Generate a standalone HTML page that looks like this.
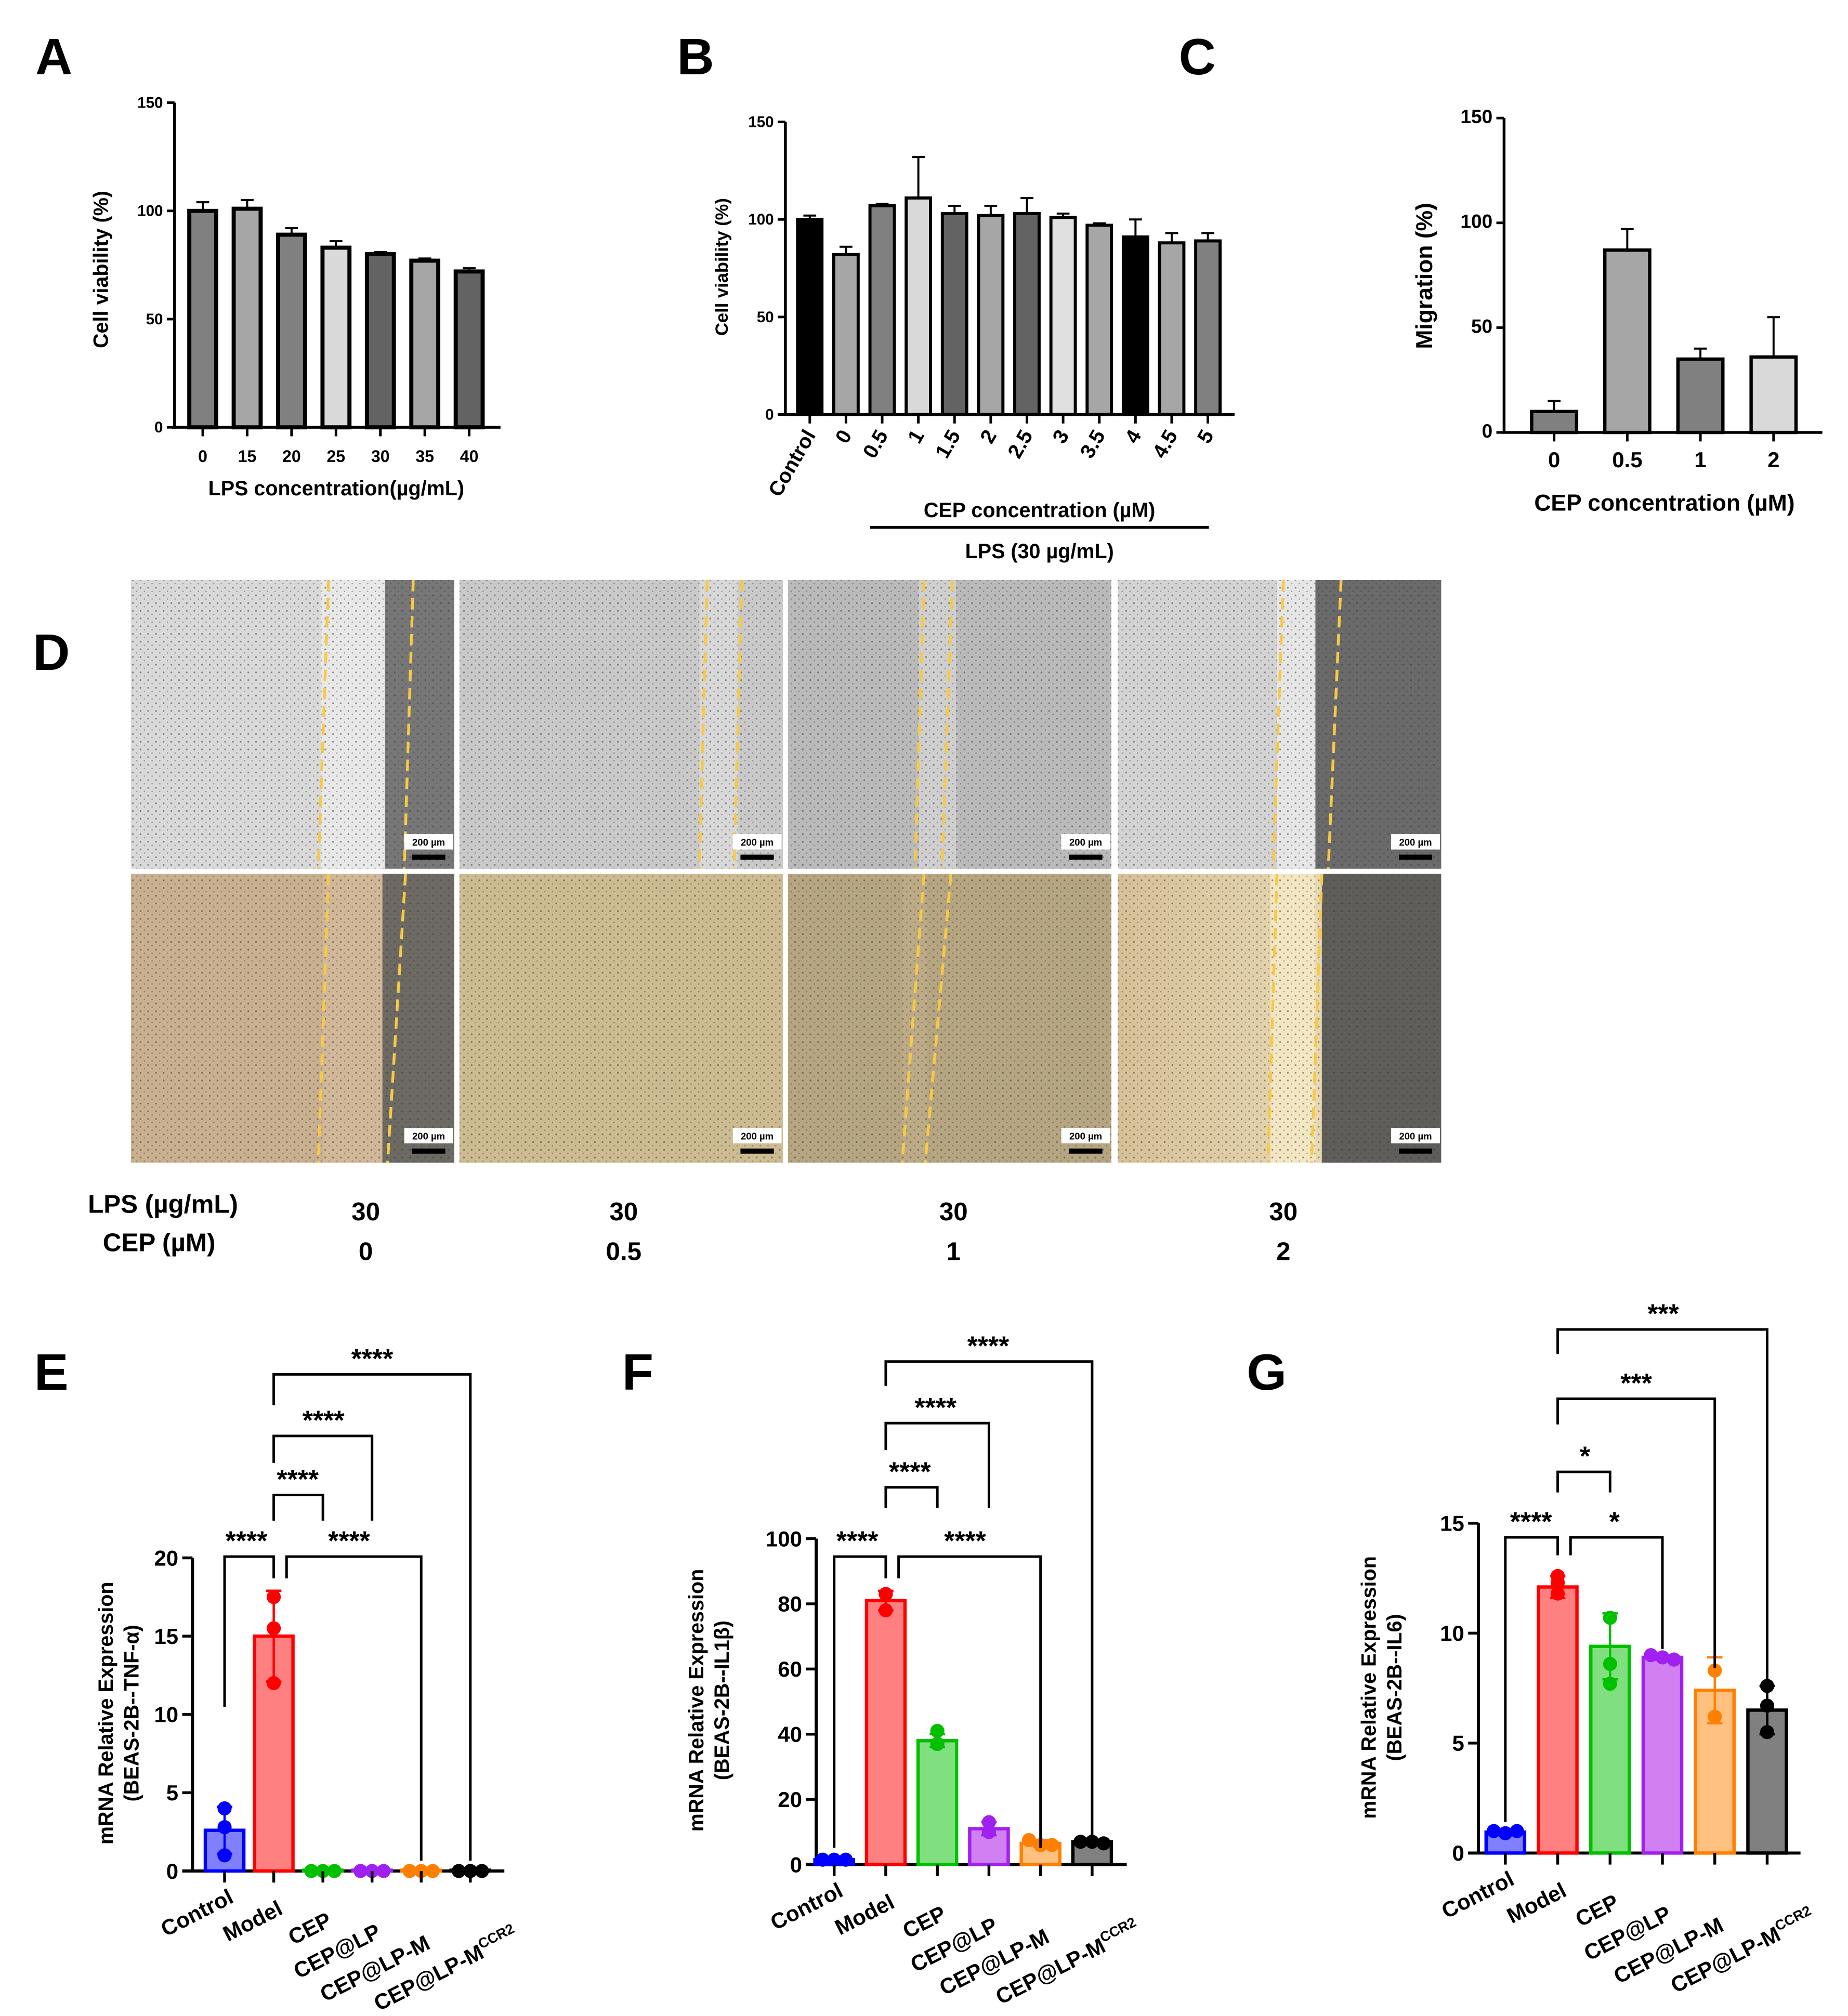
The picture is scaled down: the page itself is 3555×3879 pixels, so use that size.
<!DOCTYPE html>
<html><head><meta charset="utf-8">
<style>
html,body{margin:0;padding:0;background:#fff;}
svg{display:block;}
text{font-family:"Liberation Sans",Arial,sans-serif;font-weight:bold;fill:#000;}
</style></head>
<body>
<svg id="fig" width="3555" height="3879" viewBox="0 0 1440 1571" preserveAspectRatio="none" xmlns="http://www.w3.org/2000/svg">
<defs>
<pattern id="cells" width="6" height="6" patternUnits="userSpaceOnUse">
<circle cx="1.5" cy="2" r="0.7" fill="#333" opacity="0.5"/>
<circle cx="4.5" cy="4.8" r="0.55" fill="#333" opacity="0.4"/>
</pattern>
<linearGradient id="g4b" x1="0" x2="1" y1="0" y2="0">
<stop offset="0" stop-color="#d6c098"/><stop offset="1" stop-color="#f2e6c2"/>
</linearGradient>
</defs>
<g id="panelA"></g>
<g id="panelB"></g>
<g id="panelC"></g>
<g id="panelD"></g>
<g id="panelE"></g>
<g id="panelF"></g>
<g id="panelG"></g>
</svg>
<script>
// ---- Panel A data
const aCats = ["0","15","20","25","30","35","40"];
const aVals = [100,101,89,83,80,77,72];
const aErr = [4,4,3,3,1,1,1.5];
const aTicks = [0,50,100,150];
// ---- Panel B data
const bCats = ["Control","0","0.5","1","1.5","2","2.5","3","3.5","4","4.5","5"];
const bVals = [100,82,107,111,103,102,103,101,97,91,88,89];
const bErr = [2,4,1,21,4,5,8,2,1,9,5,4];
const bTicks = [0,50,100,150];
// ---- Panel C data
const cCats = ["0","0.5","1","2"];
const cVals = [10,87,35,36];
const cErr = [5,10,5,19];
const cTicks = [0,50,100,150];
// ---- Panels E-G data
const qCats = ["Control","Model","CEP","CEP@LP","CEP@LP-M","CEP@LP-M"];
const eVals = [2.6,15,0.05,0.05,0.05,0.05];
const eErr = [1.5,2.9,0,0,0,0];
const ePts = [[4,2.8,1.0],[17.5,15.5,12],[0,0,0],[0,0,0],[0,0,0],[0,0,0]];
const eTicks = [0,5,10,15,20];
const fVals = [1.5,81,38,11,6.5,7];
const fErr = [0.3,3,2,2,1,0.5];
const fPts = [[1.5,1.5,1.5],[83,83,78],[41,37,37],[13,10,10],[7.5,6,6],[7,7,6.5]];
const fTicks = [0,20,40,60,80,100];
const gVals = [0.95,12.1,9.4,8.9,7.4,6.5];
const gErr = [0.1,0.5,1.5,0.1,1.5,1.1];
const gPts = [[1.0,0.9,1.0],[12.6,12.3,11.8],[10.7,8.6,7.7],[9.0,8.9,8.8],[8.3,8.3,6.2],[7.6,6.7,5.5]];
const gTicks = [0,5,10,15];

const NS="http://www.w3.org/2000/svg";
function mk(parent,tag,attrs,txt){const e=document.createElementNS(NS,tag);for(const k in attrs)e.setAttribute(k,attrs[k]);if(txt!==undefined)e.textContent=txt;parent.appendChild(e);return e;}
function T(parent,x,y,s,size,anchor,extra){const e=mk(parent,'text',Object.assign({x:x,y:y,'font-size':size,'text-anchor':anchor||'middle'},extra||{}),s);return e;}

function greyChart(g,cfg){
  const ys=v=>cfg.y0-(v/cfg.ymax)*(cfg.y0-cfg.ytop);
  const xs=i=>cfg.x0+i*cfg.step;
  const ax=mk(g,'path',{d:`M${cfg.ax},${ys(cfg.ymax)} V${cfg.y0} M${cfg.xa0},${cfg.y0} H${cfg.xa1}`,stroke:'#000','stroke-width':2.2,fill:'none'});
  
  
  cfg.ticks.forEach(t=>{
    const l=mk(g,'line',{x1:cfg.ax-6,x2:cfg.ax,y1:ys(t),y2:ys(t),stroke:'#000','stroke-width':2});
    
    
    const tx=T(g,cfg.ax-9,ys(t)+4,String(t),cfg.tfs,'end');
    
    
  });
  cfg.vals.forEach((v,i)=>{
    const x=xs(i);
    const e=mk(g,'line',{x1:x,x2:x,y1:ys(v),y2:ys(v+cfg.err[i]),stroke:'#000','stroke-width':1.6});
    
    
    const c=mk(g,'line',{x1:x-5,x2:x+5,y1:ys(v+cfg.err[i]),y2:ys(v+cfg.err[i]),stroke:'#000','stroke-width':1.6});
    
    
    const r=mk(g,'rect',{x:x-cfg.bw/2,y:ys(v),width:cfg.bw,height:cfg.y0-ys(v),fill:cfg.colors[i],stroke:'#000','stroke-width':cfg.sw});
    
    
    const tk=mk(g,'line',{x1:x,x2:x,y1:cfg.y0,y2:cfg.y0+7,stroke:'#000','stroke-width':2});
    
    
    let lb;
    if(cfg.rot){lb=T(g,x+5,cfg.y0+16,cfg.cats[i],cfg.xfs,'end',{transform:`rotate(-60 ${x+5} ${cfg.y0+16})`});}
    else lb=T(g,x,cfg.y0+27,cfg.cats[i],cfg.xfs,'middle');
    
    
  });
}

// Panel A
(function(){const g=document.getElementById('panelA');
  T(g,42,58,'A',40,'middle');
  greyChart(g,{ax:136,y0:333,ytop:80,ymax:150,x0:158,step:34.6,bw:21,sw:3.2,xa0:134,xa1:390,cats:aCats,vals:aVals,err:aErr,ticks:aTicks,tfs:12,xfs:13,
    colors:['#808080','#a6a6a6','#808080','#d9d9d9','#636363','#a6a6a6','#636363']});
  const t=T(g,262,386,'LPS concentration(µg/mL)',16,'middle');
  const y=T(g,84,210,'Cell viability (%)',16,'middle',{transform:'rotate(-90 84 210)'});
})();
// Panel B
(function(){const g=document.getElementById('panelB');
  T(g,542,58,'B',40,'middle');
  greyChart(g,{ax:612,y0:323,ytop:95,ymax:150,x0:631,step:28.2,bw:19,sw:2.4,xa0:610,xa1:962,cats:bCats,vals:bVals,err:bErr,ticks:bTicks,tfs:12,xfs:16,rot:true,
    colors:['#000','#a6a6a6','#808080','#d9d9d9','#636363','#a6a6a6','#636363','#e0e0e0','#a6a6a6','#000','#a6a6a6','#808080']});
  const t=T(g,810,403,'CEP concentration (µM)',16,'middle');
  const l=mk(g,'line',{x1:678,x2:942,y1:411,y2:411,stroke:'#000','stroke-width':2.2});
  const t2=T(g,810,435,'LPS (30 µg/mL)',16,'middle');
  const y=T(g,567,208,'Cell viability (%)',14,'middle',{transform:'rotate(-90 567 208)'});
})();
// Panel C
(function(){const g=document.getElementById('panelC');
  T(g,933,58,'C',40,'middle');
  greyChart(g,{ax:1172,y0:337,ytop:92,ymax:150,x0:1211,step:57,bw:35,sw:2.6,xa0:1170,xa1:1420,cats:cCats,vals:cVals,err:cErr,ticks:cTicks,tfs:15,xfs:17,
    colors:['#808080','#a6a6a6','#808080','#d9d9d9']});
  const t=T(g,1297,398,'CEP concentration (µM)',18,'middle');
  const y=T(g,1116,215,'Migration (%)',18,'middle',{transform:'rotate(-90 1116 215)'});
})();
// Panel D (micrographs)
(function(){const g=document.getElementById('panelD');
  T(g,40,522,'D',40,'middle');
  const cols=[102,358,614,871], w=252;
  const rows=[[452,225],[681,225]];
  const base=[['#d9d9d9','#c9c9c9','#bababa','#d3d3d3'],['#c8b090','#cdbb91','#b6a581','url(#g4b)']];
  const gaps=[[[250,300,'#e8e8e8'],[545,575,'#d8d8d8'],[716,745,'#cfcfcf'],[995,1025,'#e6e6e6']],
              [[252,300,'#d0b898'],null,[703,722,'#bcab86'],[990,1025,'#f3e6c3']]];
  const dark=[[[300,354,'#777'],null,null,[1025,1123,'#6a6a6a']],
              [[298,354,'#6d6a64'],null,null,[1030,1123,'#5f5e5b']]];
  const dash=[[[256,248,322,315],[551,545,578,572],[720,713,742,734],[1000,992,1045,1035]],
              [[256,248,316,302],null,[720,703,741,721],[995,988,1030,1022]]];
  rows.forEach((r,ri)=>{cols.forEach((x,ci)=>{
    const im=mk(g,'g',{});
    
    
    mk(im,'rect',{x:x,y:r[0],width:w,height:r[1],fill:base[ri][ci]});
    const gp=gaps[ri][ci]; if(gp) mk(im,'rect',{x:gp[0],y:r[0],width:gp[1]-gp[0],height:r[1],fill:gp[2]});
    const dk=dark[ri][ci]; if(dk) mk(im,'rect',{x:dk[0],y:r[0],width:dk[1]-dk[0],height:r[1],fill:dk[2]});
    mk(im,'rect',{x:x,y:r[0],width:w,height:r[1],fill:'url(#cells)'});
    const d=dash[ri][ci];
    if(d){mk(im,'line',{x1:d[0],y1:r[0],x2:d[1],y2:r[0]+r[1],stroke:'#f7c948','stroke-width':2.2,'stroke-dasharray':'9 5'});
          mk(im,'line',{x1:d[2],y1:r[0],x2:d[3],y2:r[0]+r[1],stroke:'#f7c948','stroke-width':2.2,'stroke-dasharray':'9 5'});}
    const sx=x+w-36, sy=r[0]+r[1]-26;
    mk(im,'rect',{x:sx-3,y:sy-1,width:38,height:12,fill:'#fff'});
    const st=T(im,sx+16,sy+8,'200 µm',7.5,'middle');
    
    
    mk(im,'rect',{x:sx+3,y:sy+15,width:26,height:4,fill:'#000'});
  });});
  const l1=T(g,127,945,'LPS (µg/mL)',20,'middle');
  const l2=T(g,124,975,'CEP (µM)',20,'middle');
  const dLps=["30","30","30","30"], dCep=["0","0.5","1","2"], dx=[285,486,743,1000];
  dx.forEach((x,i)=>{
    const a=T(g,x,951,dLps[i],20,'middle');
    const b=T(g,x,982,dCep[i],20,'middle');
  });
})();

// Panels E-G
const strokes=['#0000ff','#ff0000','#00c000','#a020f0','#ff8000','#000000'];
const fills=['#8080ff','#ff8080','#80e080','#d080f0','#ffc080','#808080'];
function colorChart(g,cfg){
  const ys=v=>cfg.y0-(v/cfg.ymax)*(cfg.y0-cfg.ytop);
  const xs=i=>cfg.x0+i*cfg.step;
  const ax=mk(g,'path',{d:`M${cfg.ax},${cfg.ytop} V${cfg.y0} M${cfg.ax-8},${cfg.y0} H${cfg.xa1}`,stroke:'#000','stroke-width':2.4,fill:'none'});
  
  
  cfg.ticks.forEach(t=>{
    const l=mk(g,'line',{x1:cfg.ax-8,x2:cfg.ax,y1:ys(t),y2:ys(t),stroke:'#000','stroke-width':2.2});
    
    
    const tx=T(g,cfg.ax-11,ys(t)+6,String(t),17,'end');
    
    
  });
  cfg.vals.forEach((v,i)=>{
    const x=xs(i);
    const r=mk(g,'rect',{x:x-cfg.bw/2,y:ys(v),width:cfg.bw,height:Math.max(0,cfg.y0-ys(v)),fill:fills[i],stroke:strokes[i],'stroke-width':2.6});
    
    
    if(cfg.err[i]>0){
      const e=mk(g,'path',{d:`M${x},${ys(v-cfg.err[i])} V${ys(v+cfg.err[i])} M${x-6},${ys(v+cfg.err[i])} H${x+6} M${x-6},${ys(v-cfg.err[i])} H${x+6}`,stroke:strokes[i],'stroke-width':1.8,fill:'none'});
      
      
    }
    cfg.pts[i].forEach((p,j)=>{
      const dx=(cfg.pts[i].every(q=>Math.abs(q-cfg.pts[i][0])<cfg.ymax*0.03))?(j-1)*9:0;
      const c=mk(g,'circle',{cx:x+dx,cy:ys(p),r:5.5,fill:strokes[i]});
      
      
    });
    const tk=mk(g,'line',{x1:x,x2:x,y1:cfg.y0,y2:cfg.y0+9,stroke:'#000','stroke-width':2.2});
    
    
    const lx=x+8, ly=cfg.y0+24+i*9;
    const lb=mk(g,'text',{x:lx,y:ly,'font-size':17,'text-anchor':'end',transform:`rotate(-27 ${lx} ${ly})`},qCats[i]);
    if(i===5){mk(lb,'tspan',{dy:-7,'font-size':11},'CCR2');lb.setAttribute('x',lx+34);}
    
    
  });
  cfg.brk.forEach(b=>{
    const x1=xs(b[0])+b[5], x2=xs(b[1]);
    const p=mk(g,'path',{d:`M${x1},${b[3]} V${b[2]} H${x2} V${b[4]}`,stroke:'#000','stroke-width':2,fill:'none'});
    
    
    const t=T(g,b[7],b[2]-5,b[6],21,'middle');
    
    
  });
  const y1=T(g,cfg.tx,cfg.tc,'mRNA Relative Expression',16,'middle',{transform:`rotate(-90 ${cfg.tx} ${cfg.tc})`});
  
  const y2=T(g,cfg.tx+20,cfg.tc,cfg.sub,16,'middle',{transform:`rotate(-90 ${cfg.tx+20} ${cfg.tc})`});
  
}
(function(){const g=document.getElementById('panelE');
  T(g,40,1083,'E',40,'middle');
  colorChart(g,{ax:150,y0:1458,ytop:1214,ymax:20,x0:175,step:38.3,bw:30,xa1:393,vals:eVals,err:eErr,pts:ePts,ticks:eTicks,tx:88,tc:1335,sub:'(BEAS-2B--TNF-α)',
    brk:[[0,1,1213,1330,1230,0,'****',192],[1,4,1213,1230,1450,10,'****',272],[1,2,1165,1185,1185,0,'****',232],[1,3,1119,1140,1185,0,'****',252],[1,5,1071,1095,1450,0,'****',290]]});
})();
(function(){const g=document.getElementById('panelF');
  T(g,497,1083,'F',40,'middle');
  colorChart(g,{ax:636,y0:1453,ytop:1199,ymax:100,x0:650,step:40.2,bw:30,xa1:878,vals:fVals,err:fErr,pts:fPts,ticks:fTicks,tx:548,tc:1325,sub:'(BEAS-2B--IL1β)',
    brk:[[0,1,1213,1440,1230,0,'****',668],[1,4,1213,1230,1440,10,'****',752],[1,2,1159,1175,1175,0,'****',709],[1,3,1109,1130,1175,0,'****',729],[1,5,1061,1080,1440,0,'****',770]]});
})();
(function(){const g=document.getElementById('panelG');
  T(g,987,1083,'G',40,'middle');
  colorChart(g,{ax:1152,y0:1444,ytop:1187,ymax:15,x0:1173,step:40.8,bw:30,xa1:1403,vals:gVals,err:gErr,pts:gPts,ticks:gTicks,tx:1072,tc:1315,sub:'(BEAS-2B--IL6)',
    brk:[[0,1,1198,1420,1212,0,'****',1193],[1,3,1198,1212,1285,10,'*',1258],[1,2,1147,1163,1163,0,'*',1235],[1,4,1090,1110,1300,0,'***',1275],[1,5,1036,1055,1355,0,'***',1296]]});
})();
</script>
</body></html>
